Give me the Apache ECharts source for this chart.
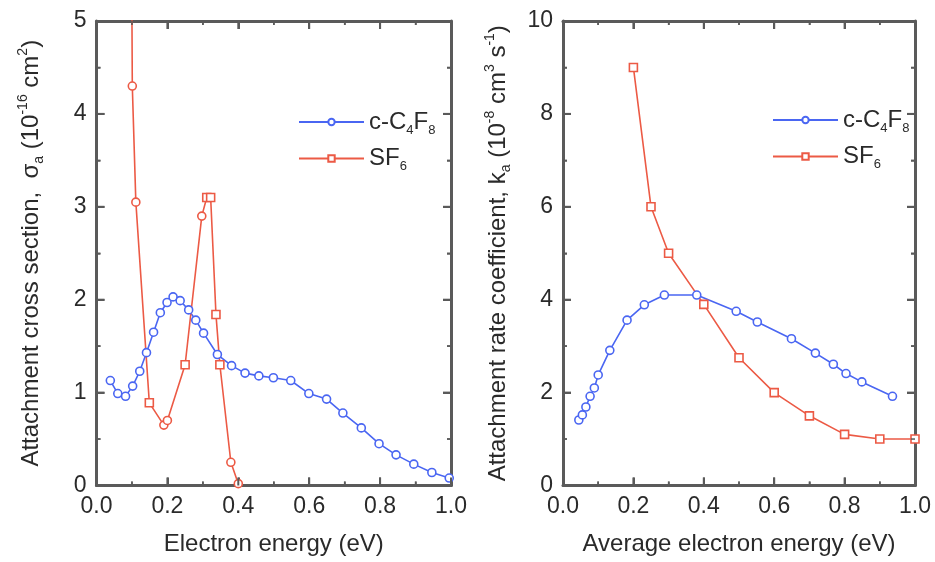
<!DOCTYPE html>
<html>
<head>
<meta charset="utf-8">
<script src="https://cdn.jsdelivr.net/npm/echarts@6/dist/echarts.min.js"></script>
<style>
  html, body { margin: 0; padding: 0; background: #fff; }
  #chart { width: 935px; height: 562px; }
</style>
</head>
<body>
<div id="chart"></div>
<script>
// Attachment cross section (10^-16 cm^2) versus electron energy (eV)
const c4f8SigmaEnergy = [0.039, 0.06, 0.082, 0.102, 0.122, 0.141, 0.161, 0.18, 0.199, 0.216, 0.236, 0.26, 0.28, 0.302,
  0.341, 0.381, 0.419, 0.458, 0.499, 0.548, 0.599, 0.649, 0.695, 0.747, 0.797, 0.845, 0.895, 0.946, 0.995];
const c4f8Sigma = [1.13, 0.99, 0.96, 1.07, 1.23, 1.43, 1.65, 1.86, 1.97, 2.03, 1.99, 1.89, 1.78, 1.64,
  1.41, 1.29, 1.21, 1.18, 1.16, 1.13, 0.99, 0.93, 0.78, 0.62, 0.45, 0.33, 0.23, 0.14, 0.08];
const sf6SigmaEnergy = [0.098, 0.101, 0.111, 0.149, 0.19, 0.20, 0.25, 0.297, 0.311, 0.322, 0.337, 0.348, 0.379, 0.40];
const sf6Sigma = [6.5, 4.30, 3.05, 0.89, 0.65, 0.70, 1.30, 2.90, 3.10, 3.10, 1.84, 1.30, 0.25, 0.02];

// Attachment rate coefficient (10^-8 cm^3 s^-1) versus average electron energy (eV)
const c4f8RateEnergy = [0.045, 0.055, 0.065, 0.077, 0.089, 0.10, 0.133, 0.182, 0.231, 0.288, 0.38, 0.492, 0.552,
  0.649, 0.717, 0.768, 0.804, 0.849, 0.936];
const c4f8Rate = [1.41, 1.52, 1.69, 1.92, 2.10, 2.38, 2.91, 3.56, 3.89, 4.10, 4.10, 3.75, 3.52,
  3.16, 2.85, 2.61, 2.41, 2.23, 1.92];
const sf6RateEnergy = [0.2, 0.25, 0.3, 0.4, 0.5, 0.6, 0.7, 0.8, 0.9, 1.0];
const sf6Rate = [9.0, 6.0, 5.0, 3.9, 2.75, 2.0, 1.5, 1.1, 1.0, 1.0];

const seriesNames = ['c-C4F8', 'SF6'];
const legendLabels = ['{n|c-C}{s|4}{n|F}{s|8}', '{n|SF}{s|6}'];
const xTicks = { min: 0, max: 1.0, interval: 0.2 };
const sigmaTicks = { min: 0, max: 5, interval: 1 };
const rateTicks = { min: 0, max: 10, interval: 2 };

const BLUE = '#4a66f2';
const RED = '#ec5a45';
const FRAME = '#5a5a5a';
const TEXT = '#2a2a2a';
const FONT = '"Liberation Sans", Arial, sans-serif';

// red cross-section curve: these points carry round markers instead of squares
const sf6RoundMarks = [0, 1, 2, 4, 5, 7, 12, 13];

function pair(xs, ys, roundIdx) {
  return xs.map((x, i) => (roundIdx && roundIdx.indexOf(i) >= 0)
    ? { value: [x, ys[i]], symbol: 'circle' }
    : [x, ys[i]]);
}

const richTitle = {
  t: { fontSize: 24, color: TEXT, fontFamily: FONT, lineHeight: 30 },
  sub: { fontSize: 14, color: TEXT, fontFamily: FONT, verticalAlign: 'bottom' },
  sup: { fontSize: 14, color: TEXT, fontFamily: FONT, verticalAlign: 'top' }
};

// each panel gets a boxed frame: labelled bottom/left axes plus bare top/right mirrors
function frameAxes(kind, gridIndex, ticks, opts) {
  const common = () => ({
    type: 'value', gridIndex,
    min: ticks.min, max: ticks.max, interval: ticks.interval,
    splitLine: { show: false },
    axisLine: { show: true, onZero: false, lineStyle: { color: FRAME, width: 3 } },
    axisTick: { show: true, inside: true, length: 8, lineStyle: { color: FRAME, width: 2 } },
    minorTick: { show: true, splitNumber: 2, length: 4, lineStyle: { color: FRAME, width: 1.5 } }
  });
  const main = Object.assign(common(), {
    position: kind === 'x' ? 'bottom' : 'left',
    axisLabel: Object.assign({ show: true, color: TEXT, fontSize: 23, fontFamily: FONT, margin: 10 }, opts.label || {}),
    name: opts.name, nameLocation: 'middle', nameGap: opts.nameGap,
    nameTextStyle: { rich: richTitle }
  });
  const mirror = Object.assign(common(), {
    position: kind === 'x' ? 'top' : 'right',
    axisLabel: { show: false }
  });
  return [main, mirror];
}

const xLabelFmt = { formatter: v => v.toFixed(1) };

const xAxes = [
  ...frameAxes('x', 0, xTicks, { name: '{t|Electron energy (eV)}', nameGap: 44, label: xLabelFmt }),
  ...frameAxes('x', 1, xTicks, { name: '{t|Average electron energy (eV)}', nameGap: 44, label: xLabelFmt })
];
const yAxes = [
  ...frameAxes('y', 0, sigmaTicks, {
    name: '{t|Attachment cross section,  σ}{sub|a}{t| (10}{sup|-16}{t| cm}{sup|2}{t|)}', nameGap: 50
  }),
  ...frameAxes('y', 1, rateTicks, {
    name: '{t|Attachment rate coefficient, k}{sub|a}{t| (10}{sup|-8}{t| cm}{sup|3}{t| s}{sup|-1}{t|)}', nameGap: 50
  })
];

function lineSeries(name, color, symbol, data, axisIndex) {
  return {
    name, type: 'line', xAxisIndex: axisIndex, yAxisIndex: axisIndex,
    data, clip: true,
    symbol, symbolSize: 8, showAllSymbol: true,
    lineStyle: { color, width: 1.6 },
    itemStyle: { color: '#fff', borderColor: color, borderWidth: 1.6 }
  };
}

const series = [
  lineSeries(seriesNames[0], BLUE, 'circle', pair(c4f8SigmaEnergy, c4f8Sigma), 0),
  lineSeries(seriesNames[1], RED, 'rect', pair(sf6SigmaEnergy, sf6Sigma, sf6RoundMarks), 0),
  lineSeries(seriesNames[0], BLUE, 'circle', pair(c4f8RateEnergy, c4f8Rate), 2),
  lineSeries(seriesNames[1], RED, 'rect', pair(sf6RateEnergy, sf6Rate), 2)
];

function legendAt(left, top) {
  return {
    show: true, orient: 'vertical', left, top,
    data: seriesNames.slice(),
    itemWidth: 65, itemHeight: 8, itemGap: 10,
    selectedMode: false,
    formatter: name => legendLabels[seriesNames.indexOf(name)],
    textStyle: {
      rich: {
        n: { fontSize: 24, color: TEXT, fontFamily: FONT, lineHeight: 29 },
        s: { fontSize: 13, color: TEXT, fontFamily: FONT, verticalAlign: 'bottom' }
      }
    }
  };
}

const chart = echarts.init(document.getElementById('chart'));
chart.setOption({
  animation: false,
  grid: [
    { left: 96.5, width: 354.5, top: 21, height: 464.5 },
    { left: 563, width: 352, top: 21, height: 464.5 }
  ],
  xAxis: xAxes,
  yAxis: yAxes,
  legend: [legendAt(293, 105), legendAt(767, 103)],
  series
});

// inward tick marks on all four sides of each frame, placed through the grid's own scales
function frameTickMarks() {
  const panels = [
    { grid: 0, x: xTicks, y: sigmaTicks },
    { grid: 1, x: xTicks, y: rateTicks }
  ];
  const els = [];
  const seg = (x1, y1, x2, y2, w) => els.push({
    type: 'line', silent: true, z: 50,
    shape: { x1, y1, x2, y2 },
    style: { stroke: FRAME, lineWidth: w }
  });
  panels.forEach(p => {
    const toPx = (vx, vy) => chart.convertToPixel({ gridIndex: p.grid }, [vx, vy]);
    const [left, bottom] = toPx(p.x.min, p.y.min);
    const [right, top] = toPx(p.x.max, p.y.max);
    const xSteps = Math.round((p.x.max - p.x.min) / (p.x.interval / 2));
    for (let i = 0; i <= xSteps; i++) {
      const v = p.x.min + i * p.x.interval / 2;
      const px = toPx(v, p.y.min)[0];
      const major = i % 2 === 0;
      const len = major ? 8 : 4;
      const w = major ? 2 : 1.5;
      seg(px, bottom, px, bottom - len, w);
      seg(px, top, px, top + len, w);
    }
    const ySteps = Math.round((p.y.max - p.y.min) / (p.y.interval / 2));
    for (let i = 0; i <= ySteps; i++) {
      const v = p.y.min + i * p.y.interval / 2;
      const py = toPx(p.x.min, v)[1];
      const major = i % 2 === 0;
      const len = major ? 8 : 4;
      const w = major ? 2 : 1.5;
      seg(left, py, left + len, py, w);
      seg(right, py, right - len, py, w);
    }
  });
  chart.setOption({ graphic: els });
}
frameTickMarks();
</script>
</body>
</html>
